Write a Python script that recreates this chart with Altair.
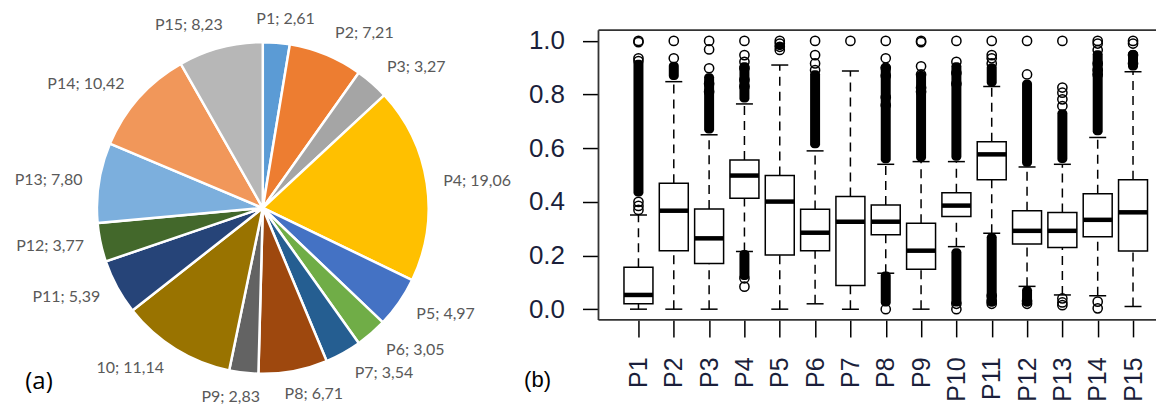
import altair as alt
import pandas as pd

# ---------------- (a) pie data ----------------
pie_cats = ["P1", "P2", "P3", "P4", "P5", "P6", "P7", "P8", "P9", "10",
            "P11", "P12", "P13", "P14", "P15"]
pie_values = [2.61, 7.21, 3.27, 19.06, 4.97, 3.05, 3.54, 6.71, 2.83, 11.14,
              5.39, 3.77, 7.80, 10.42, 8.23]
pie_colors = ["#5B9BD5", "#ED7D31", "#A5A5A5", "#FFC000", "#4472C4", "#70AD47",
              "#255E91", "#9E480E", "#636363", "#997300", "#264478", "#43682B",
              "#7CAFDD", "#F1975A", "#B7B7B7"]

# ---------------- (b) boxplot data ----------------
box_cats = ["P1", "P2", "P3", "P4", "P5", "P6", "P7", "P8", "P9", "P10",
            "P11", "P12", "P13", "P14", "P15"]
q1 = [0.020, 0.218, 0.170, 0.413, 0.202, 0.218, 0.088, 0.277, 0.149, 0.345,
      0.482, 0.243, 0.230, 0.270, 0.217]
med = [0.053, 0.367, 0.264, 0.498, 0.401, 0.285, 0.326, 0.326, 0.218, 0.386,
       0.577, 0.292, 0.292, 0.333, 0.361]
q3 = [0.156, 0.469, 0.373, 0.556, 0.498, 0.372, 0.420, 0.388, 0.320, 0.434,
      0.624, 0.367, 0.360, 0.430, 0.482]
wlo = [0.000, 0.000, 0.000, 0.215, 0.000, 0.020, 0.000, 0.134, 0.000, 0.233,
       0.283, 0.085, 0.053, 0.050, 0.010]
whi = [0.351, 0.848, 0.650, 0.765, 0.910, 0.590, 0.888, 0.540, 0.550, 0.550,
       0.830, 0.530, 0.540, 0.640, 0.885]

# individual outlier circles
out_cat = (["P1"] * 7 + ["P2"] * 2 + ["P3"] * 5 + ["P4"] * 8 + ["P5"] * 4 +
           ["P6"] * 4 + ["P7"] * 1 + ["P8"] * 7 + ["P9"] * 6 + ["P10"] * 6 +
           ["P11"] * 7 + ["P12"] * 4 + ["P13"] * 8 + ["P14"] * 8 + ["P15"] * 4)
out_val = [1.0, 0.995, 0.935, 0.925, 0.40, 0.385, 0.37,
           1.0, 0.935,
           1.0, 0.968, 0.898, 0.84, 0.81,
           1.0, 0.947, 0.922, 0.898, 0.855, 0.83, 0.115, 0.084,
           1.0, 0.99, 0.978, 0.966,
           1.0, 0.947, 0.916, 0.891,
           1.0,
           1.0, 0.935, 0.90, 0.87, 0.79, 0.76, 0.0,
           1.0, 0.995, 0.905, 0.875, 0.825, 0.81,
           1.0, 0.922, 0.88, 0.84, 0.0, 0.02,
           1.0, 0.947, 0.935, 0.916, 0.05, 0.03, 0.02,
           1.0, 0.875, 0.03, 0.02,
           1.0, 0.826, 0.807, 0.782, 0.757, 0.04, 0.025, 0.015,
           1.0, 0.99, 0.966, 0.916, 0.891, 0.875, 0.028, 0.003,
           1.0, 0.99, 0.947, 0.916]

# dense (overplotted) outlier runs
band_cat = ["P1", "P2", "P3", "P4", "P4", "P5", "P6", "P8", "P8", "P9",
            "P10", "P10", "P11", "P11", "P12", "P12", "P13", "P14", "P15"]
band_lo = [0.42, 0.854, 0.655, 0.77, 0.109, 0.966, 0.60, 0.544, 0.01, 0.55,
           0.553, 0.01, 0.83, 0.01, 0.531, 0.01, 0.545, 0.648, 0.89]
band_hi = [0.93, 0.922, 0.879, 0.92, 0.221, 0.995, 0.891, 0.916, 0.14, 0.888,
           0.92, 0.227, 0.916, 0.283, 0.855, 0.085, 0.745, 0.965, 0.966]

# ---------------- layout constants ----------------
PIE_W, PIE_H = 510, 389
CX, CY, R = 255, 200, 166
BOX_W, BOX_H = 558, 312
Y_TOP = 1.04 + 22 / 268.5
AXIS_COLOR = "#1b1f3b"

# ---------------- pie panel ----------------
pie_df = pd.DataFrame({
    "cat": pie_cats,
    "value": pie_values,
    "idx": list(range(len(pie_cats))),
    "label": [f"{c}; {v:.2f}".replace(".", ",") for c, v in zip(pie_cats, pie_values)],
})
pie_base = alt.Chart(pie_df)

arcs = pie_base.mark_arc(outerRadius=R, stroke="white", strokeWidth=2.5).encode(
    theta=alt.Theta("value:Q", stack=True),
    order=alt.Order("idx:Q"),
    color=alt.Color("cat:N", scale=alt.Scale(domain=pie_cats, range=pie_colors), legend=None),
    x=alt.value(CX),
    y=alt.value(CY),
)

# outside labels: anchored just beyond the rim, pushed sideways by half their width
pie_labels = pie_base.transform_joinaggregate(
    total="sum(value)"
).transform_window(
    cum="sum(value)", sort=[alt.SortField("idx")], frame=[None, 0]
).transform_calculate(
    mid="2*PI*(datum.cum - datum.value/2)/datum.total",
).transform_calculate(
    rr="182 + 8*abs(cos(datum.mid))",
    side="max(-1, min(1, 3*sin(datum.mid)))",
).transform_calculate(
    lx=f"{CX} + datum.rr*sin(datum.mid) + datum.side*length(datum.label)*3.7",
    ly=f"{CY} - datum.rr*cos(datum.mid)",
).mark_text(font="Lato", fontSize=16, color="#595959").encode(
    x=alt.X("lx:Q", scale=None, axis=None),
    y=alt.Y("ly:Q", scale=None, axis=None),
    text="label:N",
)

a_label = alt.Chart(pd.DataFrame({"t": ["(a)"]})).mark_text(
    font="Open Sans", fontSize=24, color="black"
).encode(text="t:N", x=alt.value(31), y=alt.value(374))

pie_panel = alt.layer(arcs, pie_labels, a_label).properties(width=PIE_W, height=PIE_H)

# ---------------- box panel ----------------
box_df = pd.DataFrame({"cat": box_cats, "q1": q1, "med": med, "q3": q3,
                       "wlo": wlo, "whi": whi})
out_df = pd.DataFrame({"cat": out_cat, "val": out_val})
band_df = pd.DataFrame({"cat": band_cat, "lo": band_lo, "hi": band_hi})

xenc = alt.X(
    "cat:N", sort=box_cats, title=None,
    scale=alt.Scale(type="point", padding=0.891, align=0.635, domain=box_cats),
    axis=alt.Axis(labelAngle=270, labelAlign="right", labelBaseline="middle",
                  labelFont="Liberation Sans", labelFontSize=25, labelColor=AXIS_COLOR,
                  labelPadding=20, tickSize=17, tickWidth=1.5, tickColor="black",
                  domain=False, grid=False),
)
yscale = alt.Scale(domain=[-0.04, Y_TOP], nice=False, zero=False)
yaxis = alt.Axis(values=[0, 0.2, 0.4, 0.6, 0.8, 1.0], format=".1f",
                 labelFont="Liberation Sans", labelFontSize=26, labelColor=AXIS_COLOR,
                 labelPadding=18, tickSize=16, tickWidth=1.5, tickColor="black",
                 domain=False, grid=False)

bb = alt.Chart(box_df)
whisk_up = bb.mark_rule(color="black", strokeWidth=1.5, strokeDash=[9, 6]).encode(
    x=xenc, y=alt.Y("q3:Q", scale=yscale, axis=yaxis, title=None), y2="whi:Q")
whisk_dn = bb.mark_rule(color="black", strokeWidth=1.5, strokeDash=[9, 6]).encode(
    x=xenc, y=alt.Y("wlo:Q", scale=yscale, axis=yaxis, title=None), y2="q1:Q")
cap_up = bb.mark_tick(color="black", size=17, thickness=1.5, opacity=1).encode(
    x=xenc, y=alt.Y("whi:Q", scale=yscale, axis=yaxis, title=None))
cap_dn = bb.mark_tick(color="black", size=17, thickness=1.5, opacity=1).encode(
    x=xenc, y=alt.Y("wlo:Q", scale=yscale, axis=yaxis, title=None))
boxes = bb.mark_bar(size=29, fill="white", stroke="black", strokeWidth=1.5, opacity=1).encode(
    x=xenc, y=alt.Y("q1:Q", scale=yscale, axis=yaxis, title=None), y2="q3:Q")
medians = bb.mark_tick(color="black", size=29, thickness=4.5, opacity=1).encode(
    x=xenc, y=alt.Y("med:Q", scale=yscale, axis=yaxis, title=None))

bands = alt.Chart(band_df).mark_bar(size=10, color="black", cornerRadius=4, opacity=1).encode(
    x=xenc, y=alt.Y("lo:Q", scale=yscale, axis=yaxis, title=None), y2="hi:Q")
outs = alt.Chart(out_df).mark_point(shape="circle", size=85, filled=False,
                                     color="black", strokeWidth=1.5, opacity=1).encode(
    x=xenc, y=alt.Y("val:Q", scale=yscale, axis=yaxis, title=None))

frame_src = alt.Chart(pd.DataFrame({"k": [0]}))
frame_top = frame_src.mark_rule(color="#333333", strokeWidth=1.8).encode(
    x=alt.value(0), x2=alt.value(BOX_W), y=alt.datum(1.04, scale=yscale))
frame_bot = frame_src.mark_rule(color="#333333", strokeWidth=1.8).encode(
    x=alt.value(0), x2=alt.value(BOX_W), y=alt.datum(-0.04, scale=yscale))
frame_left = frame_src.mark_rule(color="#333333", strokeWidth=1.8).encode(
    x=alt.value(0), y=alt.datum(1.04, scale=yscale), y2=alt.datum(-0.04))

b_label = alt.Chart(pd.DataFrame({"t": ["(b)"]})).mark_text(
    font="Liberation Sans", fontSize=22, color="black"
).encode(text="t:N", x=alt.value(-61), y=alt.value(372))

box_panel = alt.layer(
    whisk_up, whisk_dn, cap_up, cap_dn, boxes, medians, bands, outs,
    frame_top, frame_bot, frame_left, b_label
).properties(width=BOX_W, height=BOX_H)

chart = alt.hconcat(pie_panel, box_panel, spacing=81, bounds="flush").properties(
    padding=0, background="white"
).configure_view(stroke=None)

chart.save("out.html", embed_options={"renderer": "svg", "actions": False})
